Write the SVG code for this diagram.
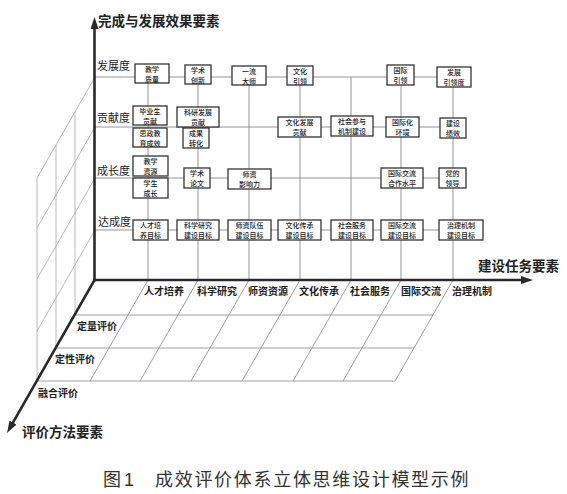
<svg xmlns="http://www.w3.org/2000/svg" width="567" height="494" viewBox="0 0 567 494">
<style>
text{font-family:"Noto Sans CJK SC","Liberation Sans",sans-serif;fill:#222}
.ax{font-size:13.5px;font-weight:bold}
.row{font-size:11px}
.col{font-size:10px;font-weight:bold}
.bt{font-size:7px;fill:#1a1a1a;font-weight:500;text-anchor:middle}
.box rect{fill:#fff;stroke:#333;stroke-width:1.3}
.grid line{stroke:#8a8a8a;stroke-width:0.9}
.wall line{stroke:#aaa;stroke-width:0.8}
.floor line{stroke:#888;stroke-width:0.8}
.axis line{stroke:#2a2a2a;stroke-width:2.6;stroke-linecap:square}
.cap{font-size:18px;fill:#333}
</style>
<defs>
<marker id="arr" markerUnits="userSpaceOnUse" viewBox="0 0 12 8" markerWidth="12" markerHeight="8" refX="2" refY="4" orient="auto">
<path d="M0,0 L12,4 L0,8 z" fill="#2a2a2a"/>
</marker>
</defs>
<g id="connectors">
<g class="wall">
<line x1="95" y1="77" x2="37" y2="178"/>
<line x1="95" y1="127" x2="37" y2="228"/>
<line x1="95" y1="178" x2="37" y2="279"/>
<line x1="95" y1="230" x2="37" y2="331"/>
<line x1="75" y1="112" x2="75" y2="315"/>
<line x1="56" y1="145" x2="56" y2="348"/>
<line x1="37" y1="178" x2="37" y2="381"/>
</g>
<g class="floor">
<line x1="75" y1="315" x2="433" y2="315"/>
<line x1="56" y1="348" x2="414" y2="348"/>
<line x1="37" y1="381" x2="395" y2="381"/>
<line x1="148" y1="280" x2="90" y2="381"/>
<line x1="198" y1="280" x2="140" y2="381"/>
<line x1="249" y1="280" x2="191" y2="381"/>
<line x1="300" y1="280" x2="242" y2="381"/>
<line x1="351" y1="280" x2="293" y2="381"/>
<line x1="401" y1="280" x2="343" y2="381"/>
<line x1="453" y1="280" x2="395" y2="381"/>
</g>
<g class="grid">
<line x1="95" y1="77" x2="453" y2="77"/>
<line x1="95" y1="127" x2="453" y2="127"/>
<line x1="95" y1="178" x2="453" y2="178"/>
<line x1="95" y1="230" x2="453" y2="230"/>
<line x1="148" y1="77" x2="148" y2="280"/>
<line x1="198" y1="77" x2="198" y2="280"/>
<line x1="249" y1="77" x2="249" y2="280"/>
<line x1="300" y1="77" x2="300" y2="280"/>
<line x1="351" y1="77" x2="351" y2="280"/>
<line x1="401" y1="77" x2="401" y2="280"/>
<line x1="453" y1="77" x2="453" y2="280"/>
</g>
<g class="axis">
<line x1="94.5" y1="280" x2="94.5" y2="27" marker-end="url(#arr)"/>
<line x1="94.5" y1="280" x2="523" y2="280" marker-end="url(#arr)"/>
<line x1="94.5" y1="280" x2="12" y2="424.3" marker-end="url(#arr)"/>
</g>
</g>
<g id="labels">
<text class="ax" x="98" y="25.5">完成与发展效果要素</text>
<text class="ax" x="478" y="271">建设任务要素</text>
<text class="ax" x="22" y="437">评价方法要素</text>
<text class="row" x="97" y="70">发展度</text>
<text class="row" x="97" y="122">贡献度</text>
<text class="row" x="97" y="175">成长度</text>
<text class="row" x="98" y="226">达成度</text>
<text class="col" x="144" y="295">人才培养</text>
<text class="col" x="197" y="295">科学研究</text>
<text class="col" x="248" y="295">师资资源</text>
<text class="col" x="299" y="295">文化传承</text>
<text class="col" x="350" y="295">社会服务</text>
<text class="col" x="401" y="295">国际交流</text>
<text class="col" x="452" y="295">治理机制</text>
<text class="col" x="77" y="329.5">定量评价</text>
<text class="col" x="55" y="363">定性评价</text>
<text class="col" x="38" y="397">融合评价</text>
<text class="cap" x="103" y="486">图<tspan font-family="Liberation Sans" x="124">1</tspan></text>
<text class="cap" x="155" y="486" letter-spacing="1.7">成效评价体系立体思维设计模型示例</text>
</g>
<g id="n-jiaoxuezhiliang" class="box"><rect x="135" y="64" width="34" height="19"/><text class="bt" x="152" y="71.6"><tspan>教学</tspan><tspan x="152" dy="10">质量</tspan></text></g>
<g id="n-xueshuchuangxin" class="box"><rect x="185" y="65" width="26" height="19"/><text class="bt" x="198" y="72.6"><tspan>学术</tspan><tspan x="198" dy="10">创新</tspan></text></g>
<g id="n-yiliudashi" class="box"><rect x="232" y="66" width="34" height="19"/><text class="bt" x="249" y="73.6"><tspan>一流</tspan><tspan x="249" dy="10">大师</tspan></text></g>
<g id="n-wenhuayinling" class="box"><rect x="287" y="66" width="26" height="19"/><text class="bt" x="300" y="73.6"><tspan>文化</tspan><tspan x="300" dy="10">引领</tspan></text></g>
<g id="n-guojiyinling" class="box"><rect x="387" y="65" width="27" height="20"/><text class="bt" x="400.5" y="73"><tspan>国际</tspan><tspan x="400.5" dy="10">引领</tspan></text></g>
<g id="n-fazhanyinlingdu" class="box"><rect x="437" y="67" width="34" height="20"/><text class="bt" x="454" y="75"><tspan>发展</tspan><tspan x="454" dy="10">引领度</tspan></text></g>
<g id="n-biyeshenggongxian" class="box"><rect x="133" y="106" width="34" height="19"/><text class="bt" x="150" y="113.6"><tspan>毕业生</tspan><tspan x="150" dy="10">贡献</tspan></text></g>
<g id="n-sizhengjiaoyu" class="box"><rect x="133" y="128" width="34" height="19"/><text class="bt" x="150" y="135.6"><tspan>思政教</tspan><tspan x="150" dy="10">育成效</tspan></text></g>
<g id="n-keyanfazhan" class="box"><rect x="177" y="107" width="42" height="20"/><text class="bt" x="198" y="115"><tspan>科研发展</tspan><tspan x="198" dy="10">贡献</tspan></text></g>
<g id="n-chengguozhuanhua" class="box"><rect x="183" y="128" width="26" height="20"/><text class="bt" x="196" y="136"><tspan>成果</tspan><tspan x="196" dy="10">转化</tspan></text></g>
<g id="n-wenhuafazhan" class="box"><rect x="278" y="117" width="43" height="20"/><text class="bt" x="299.5" y="125"><tspan>文化发展</tspan><tspan x="299.5" dy="10">贡献</tspan></text></g>
<g id="n-shehuicanyu" class="box"><rect x="331" y="116" width="42" height="20"/><text class="bt" x="352" y="124"><tspan>社会参与</tspan><tspan x="352" dy="10">机制建设</tspan></text></g>
<g id="n-guojihuahuanjing" class="box"><rect x="386" y="117" width="33" height="20"/><text class="bt" x="402.5" y="125"><tspan>国际化</tspan><tspan x="402.5" dy="10">环境</tspan></text></g>
<g id="n-jianshejixiao" class="box"><rect x="440" y="118" width="26" height="20"/><text class="bt" x="453" y="126"><tspan>建设</tspan><tspan x="453" dy="10">绩效</tspan></text></g>
<g id="n-jiaoxueziyuan" class="box"><rect x="133" y="156" width="35" height="20"/><text class="bt" x="150.5" y="164"><tspan>教学</tspan><tspan x="150.5" dy="10">资源</tspan></text></g>
<g id="n-xueshengchengzhang" class="box"><rect x="133" y="178" width="35" height="20"/><text class="bt" x="150.5" y="186"><tspan>学生</tspan><tspan x="150.5" dy="10">成长</tspan></text></g>
<g id="n-xueshulunwen" class="box"><rect x="184" y="168" width="26" height="20"/><text class="bt" x="197" y="176"><tspan>学术</tspan><tspan x="197" dy="10">论文</tspan></text></g>
<g id="n-shiziyingxiangli" class="box"><rect x="228" y="169" width="43" height="20"/><text class="bt" x="249.5" y="177"><tspan>师资</tspan><tspan x="249.5" dy="10">影响力</tspan></text></g>
<g id="n-guojijiaoliuhezuo" class="box"><rect x="381" y="168" width="42" height="20"/><text class="bt" x="402" y="176"><tspan>国际交流</tspan><tspan x="402" dy="10">合作水平</tspan></text></g>
<g id="n-dangdelingdao" class="box"><rect x="439" y="168" width="27" height="20"/><text class="bt" x="452.5" y="176"><tspan>党的</tspan><tspan x="452.5" dy="10">领导</tspan></text></g>
<g id="n-rencaipeiyang" class="box"><rect x="133" y="220" width="35" height="20"/><text class="bt" x="150.5" y="228"><tspan>人才培</tspan><tspan x="150.5" dy="10">养目标</tspan></text></g>
<g id="n-kexueyanjiu" class="box"><rect x="177" y="220" width="42" height="20"/><text class="bt" x="198" y="228"><tspan>科学研究</tspan><tspan x="198" dy="10">建设目标</tspan></text></g>
<g id="n-shiziduiwu" class="box"><rect x="228" y="220" width="43" height="20"/><text class="bt" x="249.5" y="228"><tspan>师资队伍</tspan><tspan x="249.5" dy="10">建设目标</tspan></text></g>
<g id="n-wenhuachuancheng" class="box"><rect x="278" y="220" width="43" height="20"/><text class="bt" x="299.5" y="228"><tspan>文化传承</tspan><tspan x="299.5" dy="10">建设目标</tspan></text></g>
<g id="n-shehuifuwu" class="box"><rect x="331" y="220" width="42" height="20"/><text class="bt" x="352" y="228"><tspan>社会服务</tspan><tspan x="352" dy="10">建设目标</tspan></text></g>
<g id="n-guojijiaoliu" class="box"><rect x="381" y="220" width="42" height="20"/><text class="bt" x="402" y="228"><tspan>国际交流</tspan><tspan x="402" dy="10">建设目标</tspan></text></g>
<g id="n-zhilijizhi" class="box"><rect x="439" y="220" width="44" height="20"/><text class="bt" x="461" y="228"><tspan>治理机制</tspan><tspan x="461" dy="10">建设目标</tspan></text></g>
</svg>
